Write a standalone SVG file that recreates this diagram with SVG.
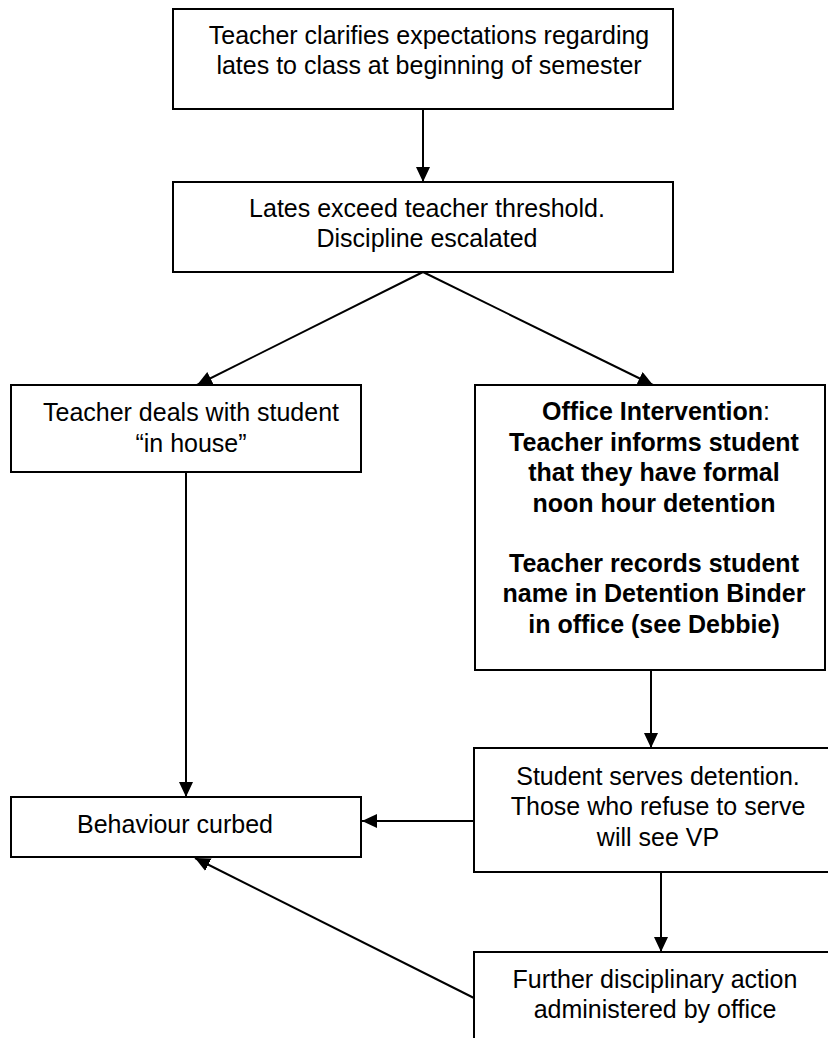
<svg xmlns="http://www.w3.org/2000/svg" width="828" height="1038" viewBox="0 0 828 1038">
<style>
.box{fill:#fff;stroke:#000;stroke-width:2}
.t{font-family:"Liberation Sans",Arial,sans-serif;font-size:25px;fill:#000;text-anchor:middle}
.b{font-weight:bold}
.c{stroke:#000;stroke-width:2;fill:none;marker-end:url(#ah)}
</style>
<defs>
<marker id="ah" markerWidth="15" markerHeight="14" refX="15" refY="7" orient="auto" markerUnits="userSpaceOnUse">
<path d="M0,0 L15,7 L0,14 z" fill="#000"/>
</marker>
</defs>
<rect width="828" height="1038" fill="#fff"/>
<g id="connectors">
<line class="c" x1="423" y1="109" x2="423" y2="182"/>
<line class="c" x1="423" y1="272" x2="197" y2="385"/>
<line class="c" x1="423" y1="272" x2="653" y2="385"/>
<line class="c" x1="186" y1="472" x2="186" y2="797"/>
<line class="c" x1="651" y1="670" x2="651" y2="748"/>
<line class="c" x1="474" y1="821" x2="362" y2="821"/>
<line class="c" x1="661" y1="872" x2="661" y2="952"/>
<line class="c" x1="474" y1="998" x2="195" y2="858"/>
</g>
<g id="n1">
<rect class="box" x="173" y="9" width="500" height="100"/>
<text class="t" x="429" y="44">Teacher clarifies expectations regarding</text>
<text class="t" x="429" y="74">lates to class at beginning of semester</text>
</g>
<g id="n2">
<rect class="box" x="173" y="182" width="500" height="90"/>
<text class="t" x="427" y="217">Lates exceed teacher threshold.</text>
<text class="t" x="427" y="247">Discipline escalated</text>
</g>
<g id="n3">
<rect class="box" x="11" y="385" width="350" height="87"/>
<text class="t" x="191" y="421">Teacher deals with student</text>
<text class="t" x="191" y="452">“in house”</text>
</g>
<g id="n4">
<rect class="box" x="475" y="385" width="350" height="285"/>
<text class="t" x="656" y="420"><tspan class="b">Office Intervention</tspan>:</text>
<text class="t b" x="654" y="451">Teacher informs student</text>
<text class="t b" x="654" y="481">that they have formal</text>
<text class="t b" x="654" y="512">noon hour detention</text>
<text class="t b" x="654" y="572">Teacher records student</text>
<text class="t b" x="654" y="602">name in Detention Binder</text>
<text class="t b" x="654" y="633">in office (see Debbie)</text>
</g>
<g id="n5">
<rect class="box" x="11" y="797" width="350" height="60"/>
<text class="t" x="175" y="833">Behaviour curbed</text>
</g>
<g id="n6">
<rect class="box" x="474" y="748" width="368" height="124"/>
<text class="t" x="658" y="785">Student serves detention.</text>
<text class="t" x="658" y="815">Those who refuse to serve</text>
<text class="t" x="658" y="846">will see VP</text>
</g>
<g id="n7">
<rect class="box" x="474" y="952" width="368" height="100"/>
<text class="t" x="655" y="988">Further disciplinary action</text>
<text class="t" x="655" y="1018">administered by office</text>
</g>
</svg>
